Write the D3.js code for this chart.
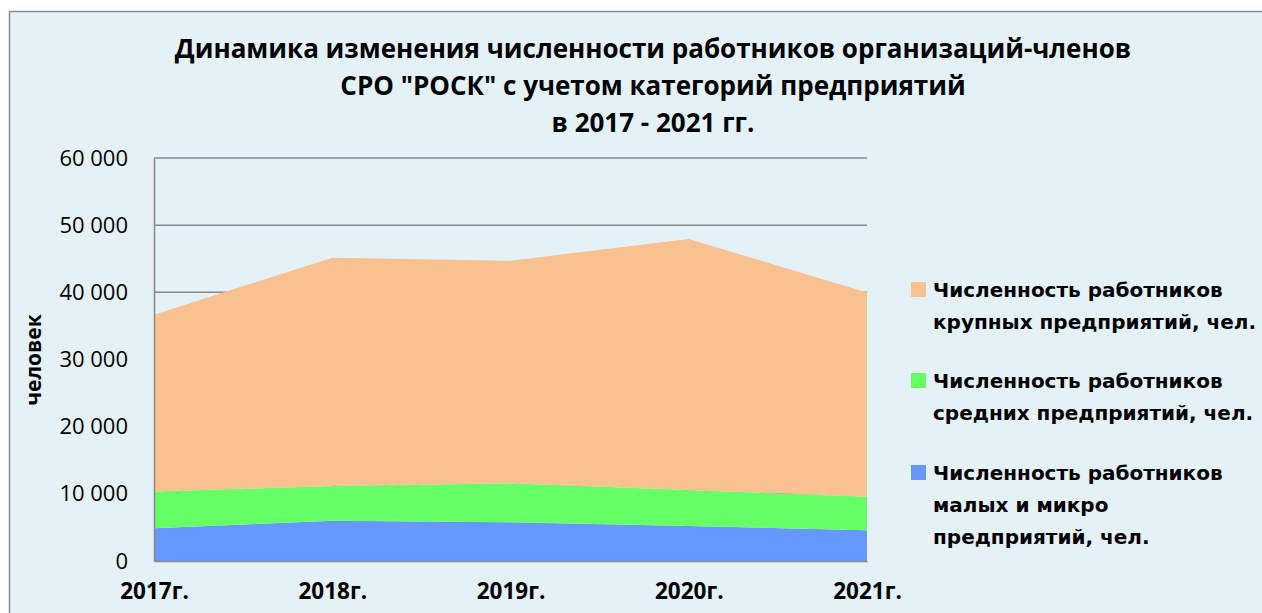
<!DOCTYPE html>
<html>
<head>
<meta charset="utf-8">
<script src="https://cdn.jsdelivr.net/npm/d3@7"></script>
<style>
  body { margin: 0; background: #fff; }
  text { fill: #000; }
</style>
</head>
<body>
<svg id="chart" width="1262" height="613"></svg>
<script>
// years on the category axis
var years = ["2017г.", "2018г.", "2019г.", "2020г.", "2021г."];
// workers, by size of enterprise
var smallMicro = [4870, 6000, 5770, 5220, 4580];
var medium = [5460, 5180, 5810, 5360, 5000];
var large = [26330, 33980, 33130, 37360, 30410];
var yTicks = [0, 10000, 20000, 30000, 40000, 50000, 60000];

var seriesNames = [
  ["Численность работников", "малых и микро", "предприятий, чел."],
  ["Численность работников", "средних предприятий, чел."],
  ["Численность работников", "крупных предприятий, чел."]
];
var colors = ["#6699ff", "#66ff66", "#f9c090"];

var svg = d3.select("#chart");

// chart frame
svg.append("rect")
  .attr("x", 9.5).attr("y", 11.5)
  .attr("width", 1300).attr("height", 700)
  .attr("fill", "#e4f2f7")
  .attr("stroke", "#8c8c8c")
  .attr("stroke-width", 1.5);

var x = d3.scalePoint().domain(years).range([154, 867]);
var y = d3.scaleLinear().domain([0, 60000]).range([561, 158]);

// title
var titleLines = [
  "Динамика изменения численности работников организаций-членов",
  "СРО \"РОСК\" с учетом категорий предприятий",
  "в 2017 - 2021 гг."
];
svg.append("g").selectAll("text")
  .data(titleLines)
  .enter().append("text")
  .attr("x", 653)
  .attr("y", (d, i) => 58 + i * 37)
  .attr("text-anchor", "middle")
  .style("font-family", "Open Sans")
  .style("font-weight", "bold")
  .style("font-size", "26px")
  .text(d => d);

// gridlines
svg.append("g")
  .selectAll("line")
  .data(yTicks.slice(1))
  .enter().append("line")
  .attr("x1", 154).attr("x2", 867)
  .attr("y1", d => y(d)).attr("y2", d => y(d))
  .attr("stroke", "#888")
  .attr("stroke-width", 1.5);

// stacked areas
var table = years.map((yr, i) => ({ year: yr, s0: smallMicro[i], s1: medium[i], s2: large[i] }));
var stack = d3.stack().keys(["s0", "s1", "s2"]);
var layers = stack(table);

var area = d3.area()
  .x(d => x(d.data.year))
  .y0(d => y(d[0]))
  .y1(d => y(d[1]));

svg.append("g")
  .selectAll("path")
  .data(layers)
  .enter().append("path")
  .attr("d", area)
  .attr("fill", (d, i) => colors[i]);

// y axis
var yAxis = d3.axisLeft(y)
  .tickValues(yTicks)
  .tickSize(0)
  .tickPadding(26)
  .tickFormat(d => d3.format(",")(d).replace(/,/g, " "));

var gy = svg.append("g")
  .attr("transform", "translate(154,0)")
  .call(yAxis);
gy.select(".domain").attr("stroke", "#888").attr("stroke-width", 1.5);
gy.selectAll("text")
  .style("font-family", "Open Sans")
  .style("font-size", "22px")
  .attr("fill", "#000");

// x axis
var xAxis = d3.axisBottom(x).tickSize(0).tickPadding(22);
var gx = svg.append("g")
  .attr("transform", "translate(0,561)")
  .call(xAxis);
gx.select(".domain").attr("stroke", "#888").attr("stroke-width", 1.5);
gx.selectAll("text")
  .style("font-family", "Open Sans")
  .style("font-weight", "bold")
  .style("font-size", "22.5px")
  .attr("fill", "#000");

// y axis title
svg.append("text")
  .attr("transform", "translate(41,360) rotate(-90)")
  .attr("text-anchor", "middle")
  .style("font-family", "Open Sans")
  .style("font-weight", "bold")
  .style("font-size", "21px")
  .text("человек");

// legend, largest on top like the original
var legendTop = [282, 373, 465];
var legend = svg.append("g");
[2, 1, 0].forEach(function (s, k) {
  legend.append("rect")
    .attr("x", 911).attr("y", legendTop[k])
    .attr("width", 15).attr("height", 15)
    .attr("fill", colors[s]);
  legend.selectAll(null)
    .data(seriesNames[s])
    .enter().append("text")
    .attr("x", 933)
    .attr("y", (d, i) => legendTop[k] + 15 + i * 32)
    .style("font-family", "DejaVu Sans")
    .style("font-weight", "bold")
    .style("font-size", "20px")
    .text(d => d);
});
</script>
</body>
</html>
